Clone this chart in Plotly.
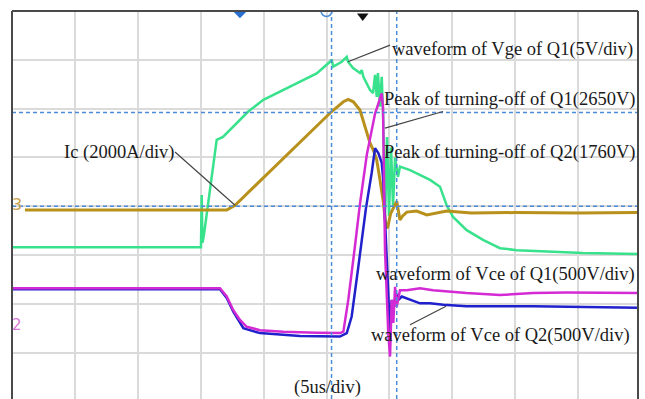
import plotly.graph_objects as go

# time in microseconds (5 us/div), amplitudes in screen divisions (8 div high)
vge_t = [0, 14.94, 15.02, 15.08, 15.14, 15.25, 16.27, 16.77, 18.78, 19.98, 22.10, 24.22, 25.28, 25.41,
         25.54, 26.21, 26.61, 26.71, 27.11, 27.66, 27.80, 27.93, 28.46, 28.70, 28.86, 28.99, 29.09,
         29.25, 29.39, 29.51, 29.65, 29.81, 29.97, 30.13, 30.29, 30.45, 30.68, 30.84, 31.64, 33.23,
         34.02, 34.55, 35.06, 36.14, 37.44, 38.79, 40.12, 42.77, 45.39, 49.76]
vge_v = [3.16, 3.16, 3.16, 4.23, 3.25, 3.40, 5.36, 5.42, 5.94, 6.18, 6.45, 6.72, 6.96, 7.00,
         6.86, 6.96, 7.06, 6.96, 6.83, 6.73, 6.79, 6.65, 6.38, 6.32, 6.69, 6.24, 6.73,
         6.04, 6.65, 5.77, 3.72, 5.42, 3.80, 5.20, 4.00, 5.00, 4.60, 4.81, 4.74, 4.54,
         4.40, 4.02, 3.78, 3.51, 3.31, 3.14, 3.10, 3.07, 3.04, 3.02]

ic_t = [1.03, 17.07, 17.73, 25.41, 26.34, 26.73, 27.13, 27.66, 28.06, 28.46, 28.72, 28.99, 29.25,
        29.51, 29.72, 29.85, 30.10, 30.31, 30.58, 30.84, 31.05, 31.38, 32.17, 32.97, 34.55, 36.5,
        40.0, 45.0, 49.76]
ic_v = [3.92, 3.92, 4.02, 5.94, 6.14, 6.19, 6.14, 5.97, 5.63, 5.29, 5.15, 4.95, 4.54,
        4.10, 3.60, 3.55, 3.85, 3.95, 4.10, 3.72, 3.80, 3.88, 3.90, 3.82, 3.90, 3.86,
        3.87, 3.86, 3.87]

vce1_t = [0, 16.53, 17.07, 17.59, 18.12, 18.66, 19.71, 21.57, 24.22, 26.07, 26.34, 26.73, 27.27,
          27.66, 28.20, 28.86, 29.39, 29.49, 29.65, 29.79, 29.91, 30.05, 30.18, 30.31, 30.45,
          30.58, 30.84, 31.38, 32.43, 33.47, 36.14, 38.79, 41.42, 44.09, 49.76]
vce1_v = [2.32, 2.32, 2.15, 1.87, 1.67, 1.53, 1.46, 1.43, 1.41, 1.40, 1.43, 2.08, 3.20,
          4.05, 5.05, 5.90, 6.31, 6.03, 3.10, 2.08, 1.40, 0.92, 2.08, 1.61, 2.35,
          1.94, 2.28, 2.28, 2.32, 2.28, 2.22, 2.18, 2.22, 2.23, 2.22]

vce2_t = [0, 16.53, 17.07, 17.59, 18.39, 19.71, 22.89, 26.07, 26.61, 27.00, 27.53, 28.13, 28.59,
          28.86, 29.12, 29.39, 29.51, 29.65, 29.79, 30.05, 30.18, 30.31, 30.52, 30.71, 30.98,
          31.64, 32.43, 33.23, 34.28, 36.14, 41.42, 49.76]
vce2_v = [2.30, 2.30, 2.12, 1.84, 1.50, 1.40, 1.34, 1.33, 1.40, 1.74, 2.76, 3.95, 4.68,
          5.19, 5.09, 4.89, 4.54, 3.72, 2.76, 1.40, 2.08, 1.87, 2.22, 2.08, 2.15,
          2.08, 2.01, 2.01, 1.98, 1.95, 1.95, 1.92]

cursor_t = [25.40, 30.58]
cursor_v = [5.92, 4.00]

labels = ["waveform of Vge of Q1(5V/div)", "Peak of turning-off of Q1(2650V)",
          "Peak of turning-off of Q2(1760V)", "Ic (2000A/div)",
          "waveform of Vce of Q1(500V/div)", "waveform of Vce of Q2(500V/div)", "(5us/div)"]
label_t = [30.05, 29.45, 29.45, 3.97, 28.75, 28.35, 22.26]
label_v = [7.22, 6.18, 5.11, 5.11, 2.61, 1.36, 0.28]

# leader lines: (t0, v0, t1, v1)
leaders = [(26.71, 6.96, 30.05, 7.30), (29.65, 5.60, 34.26, 5.94),
           (12.96, 5.11, 17.73, 4.02), (31.64, 1.57, 34.5, 1.95)]

fig = go.Figure()
fig.add_trace(go.Scatter(x=vge_t, y=vge_v, mode="lines", line=dict(color="#38e28c", width=2.5)))
fig.add_trace(go.Scatter(x=ic_t, y=ic_v, mode="lines", line=dict(color="#b8911c", width=3)))
fig.add_trace(go.Scatter(x=vce2_t, y=vce2_v, mode="lines", line=dict(color="#2020cc", width=2.5)))
fig.add_trace(go.Scatter(x=vce1_t, y=vce1_v, mode="lines", line=dict(color="#d42ad4", width=2.5)))

# top trigger/position markers
fig.add_trace(go.Scatter(x=[18.12], y=[8.0], mode="markers",
                         marker=dict(symbol="diamond", size=11, color="#2a6fd0")))
fig.add_trace(go.Scatter(x=[25.0], y=[8.0], mode="markers",
                         marker=dict(symbol="circle-open", size=11, color="#4a8cd8", line=dict(width=1.5))))
fig.add_trace(go.Scatter(x=[27.88], y=[7.9], mode="markers",
                         marker=dict(symbol="triangle-down", size=10, color="#111111")))

shapes = []
for t in cursor_t:
    shapes.append(dict(type="line", xref="x", yref="paper", x0=t, x1=t, y0=0, y1=1,
                       line=dict(color="#4a8cd8", width=1.5, dash="4px,3px"), layer="above"))
for v in cursor_v:
    shapes.append(dict(type="line", xref="paper", yref="y", x0=0, x1=1, y0=v, y1=v,
                       line=dict(color="#4a8cd8", width=1.5, dash="4px,3px"), layer="above"))
for (a, b, c, d) in leaders:
    shapes.append(dict(type="line", xref="x", yref="y", x0=a, y0=b, x1=c, y1=d,
                       line=dict(color="#444444", width=1.2), layer="above"))
# frame (top, left, right)
frame = dict(color="#4a4a4a", width=2)
shapes.append(dict(type="line", xref="paper", yref="paper", x0=0, x1=1, y0=1, y1=1, line=frame))
shapes.append(dict(type="line", xref="paper", yref="paper", x0=0, x1=0, y0=0, y1=1, line=frame))
shapes.append(dict(type="line", xref="paper", yref="paper", x0=1, x1=1, y0=0, y1=1, line=frame))

annotations = []
for txt, t, v in zip(labels, label_t, label_v):
    annotations.append(dict(x=t, y=v, xref="x", yref="y", text=txt, showarrow=False,
                            xanchor="left", yanchor="middle",
                            font=dict(family="Liberation Serif, Times New Roman, serif",
                                      size=18.5, color="#1a1a1a")))
annotations.append(dict(x=0.42, y=4.03, xref="x", yref="y", text="3", showarrow=False,
                        xanchor="center", yanchor="middle",
                        font=dict(family="DejaVu Sans", size=16, color="#c9a24e")))
annotations.append(dict(x=0.42, y=1.57, xref="x", yref="y", text="2", showarrow=False,
                        xanchor="center", yanchor="middle",
                        font=dict(family="DejaVu Sans", size=15, color="#d77ad7")))

fig.update_layout(
    width=645, height=399,
    margin=dict(l=12, r=7, t=11, b=0, autoexpand=False),
    paper_bgcolor="white", plot_bgcolor="white",
    showlegend=False,
    shapes=shapes, annotations=annotations,
    xaxis=dict(range=[0, 49.76], tick0=0, dtick=5, showgrid=True, gridcolor="#dadada",
               gridwidth=1.5, showticklabels=False, zeroline=False, ticks="", fixedrange=True),
    yaxis=dict(range=[0.05, 8], tick0=0, dtick=1, showgrid=True, gridcolor="#dadada",
               gridwidth=1.5, showticklabels=False, zeroline=False, ticks="", fixedrange=True),
)

fig.write_html("out.html", config={"displayModeBar": False},
               post_script="document.body.style.margin='0px';document.body.style.overflow='hidden';")
